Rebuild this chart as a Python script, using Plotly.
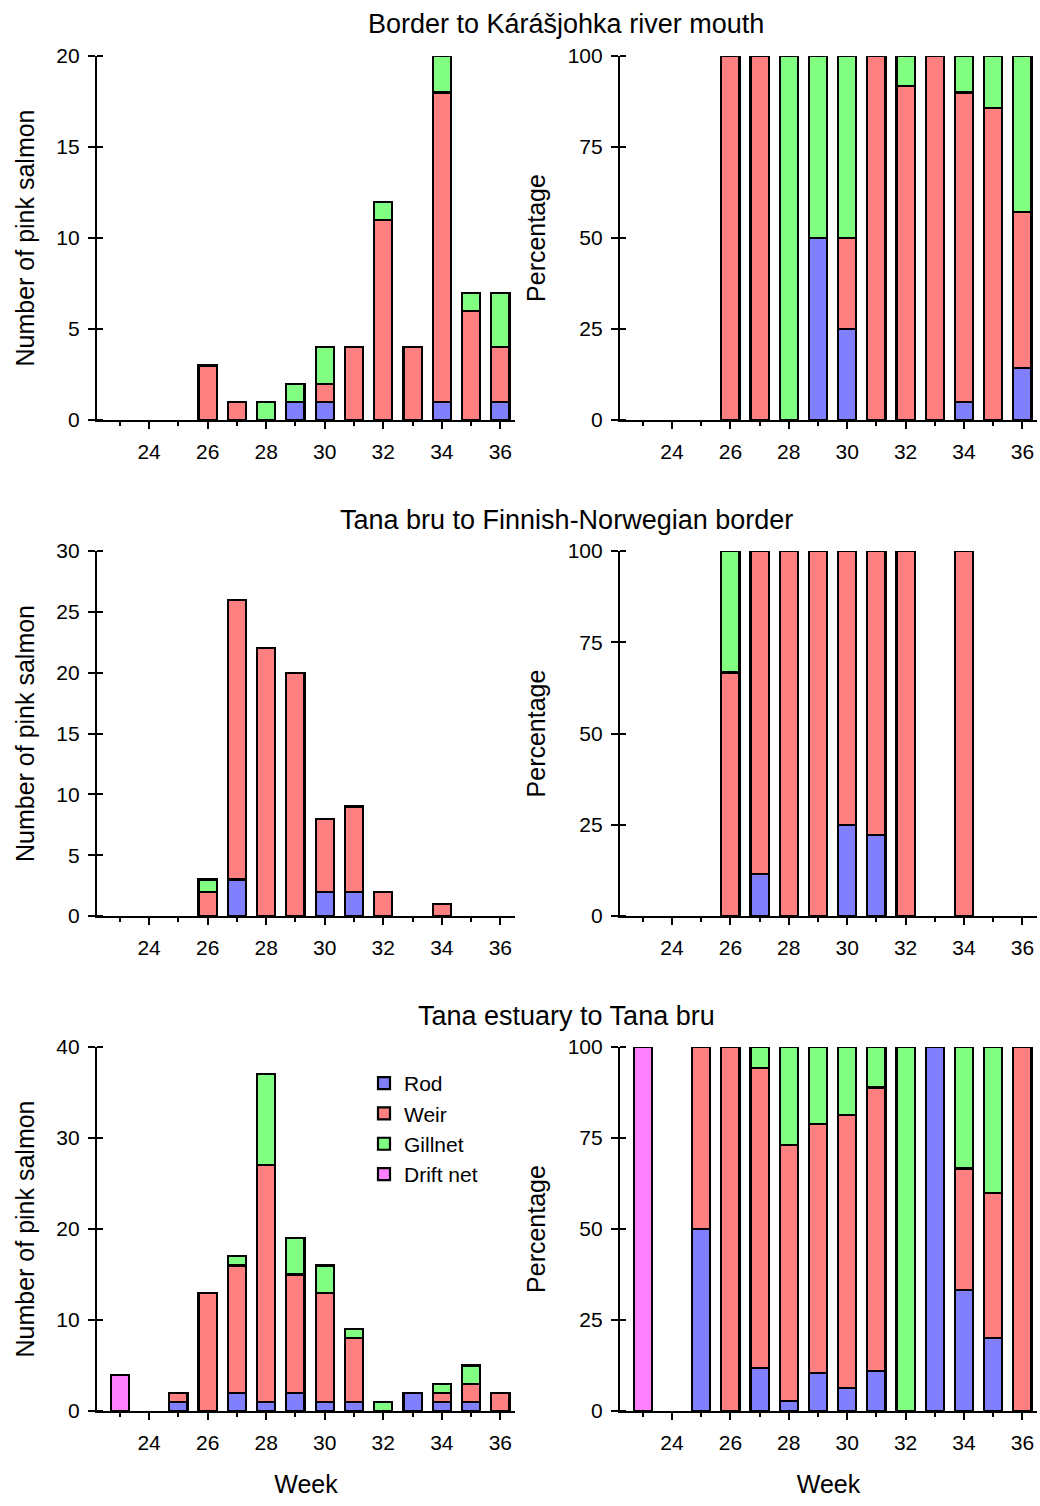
import plotly.graph_objects as go

N = None
weeks = [23, 24, 25, 26, 27, 28, 29, 30, 31, 32, 33, 34, 35, 36]

# Border to Kárášjohka river mouth
rod1 = [N, N, N, N, N, N, 1, 1, N, N, N, 1, N, 1]
weir1 = [N, N, N, 3, 1, N, N, 1, 4, 11, 4, 17, 6, 3]
gill1 = [N, N, N, N, N, 1, 1, 2, N, 1, N, 2, 1, 3]
rodp1 = [N, N, N, N, N, N, 50, 25, N, N, N, 5, N, 14.3]
weirp1 = [N, N, N, 100, 100, N, N, 25, 100, 91.7, 100, 85, 85.7, 42.9]
gillp1 = [N, N, N, N, N, 100, 50, 50, N, 8.3, N, 10, 14.3, 42.9]

# Tana bru to Finnish-Norwegian border
rod2 = [N, N, N, N, 3, N, N, 2, 2, N, N, N, N, N]
weir2 = [N, N, N, 2, 23, 22, 20, 6, 7, 2, N, 1, N, N]
gill2 = [N, N, N, 1, N, N, N, N, N, N, N, N, N, N]
rodp2 = [N, N, N, N, 11.5, N, N, 25, 22.2, N, N, N, N, N]
weirp2 = [N, N, N, 66.7, 88.5, 100, 100, 75, 77.8, 100, N, 100, N, N]
gillp2 = [N, N, N, 33.3, N, N, N, N, N, N, N, N, N, N]

# Tana estuary to Tana bru
rod3 = [N, N, 1, N, 2, 1, 2, 1, 1, N, 2, 1, 1, N]
weir3 = [N, N, 1, 13, 14, 26, 13, 12, 7, N, N, 1, 2, 2]
gill3 = [N, N, N, N, 1, 10, 4, 3, 1, 1, N, 1, 2, N]
drift3 = [4, N, N, N, N, N, N, N, N, N, N, N, N, N]
rodp3 = [N, N, 50, N, 11.8, 2.7, 10.5, 6.3, 11.1, N, 100, 33.3, 20, N]
weirp3 = [N, N, 50, 100, 82.4, 70.3, 68.4, 75, 77.8, N, N, 33.3, 40, 100]
gillp3 = [N, N, N, N, 5.9, 27, 21.1, 18.8, 11.1, 100, N, 33.3, 40, N]
driftp3 = [100, N, N, N, N, N, N, N, N, N, N, N, N, N]

titles = ["Border to Kárášjohka river mouth",
          "Tana bru to Finnish-Norwegian border",
          "Tana estuary to Tana bru"]
x_ticks = [24, 26, 28, 30, 32, 34, 36]
x_minor = [23, 25, 27, 29, 31, 33, 35]
series_names = ["Rod", "Weir", "Gillnet", "Drift net"]
colors = {"Rod": "#8080FF", "Weir": "#FF8080", "Gillnet": "#80FF80", "Drift net": "#FF80FF"}

panels = [
    (0, 0, {"Rod": rod1, "Weir": weir1, "Gillnet": gill1}, 20, [0, 5, 10, 15, 20]),
    (0, 1, {"Rod": rodp1, "Weir": weirp1, "Gillnet": gillp1}, 100, [0, 25, 50, 75, 100]),
    (1, 0, {"Rod": rod2, "Weir": weir2, "Gillnet": gill2}, 30, [0, 5, 10, 15, 20, 25, 30]),
    (1, 1, {"Rod": rodp2, "Weir": weirp2, "Gillnet": gillp2}, 100, [0, 25, 50, 75, 100]),
    (2, 0, {"Rod": rod3, "Weir": weir3, "Gillnet": gill3, "Drift net": drift3}, 40, [0, 10, 20, 30, 40]),
    (2, 1, {"Rod": rodp3, "Weir": weirp3, "Gillnet": gillp3, "Drift net": driftp3}, 100, [0, 25, 50, 75, 100]),
]

W, H = 1040, 1506
xdom = [(97 / W, 515 / W), (620 / W, 1037 / W)]
rows_px = [(56, 420), (551, 916), (1047, 1411)]
ydom = [(1 - b / H, 1 - t / H) for (t, b) in rows_px]

FONT = "Liberation Sans, Arial, sans-serif"
TICK = 21
fig = go.Figure()
layout = dict(
    width=W, height=H, autosize=False,
    margin=dict(l=0, r=0, t=0, b=0),
    paper_bgcolor="white", plot_bgcolor="white",
    barmode="stack",
    font=dict(family=FONT, size=TICK, color="black"),
    showlegend=True,
    legend=dict(x=364 / W, y=1 - 1063 / H, xanchor="left", yanchor="top",
                traceorder="normal", font=dict(size=21), bgcolor="rgba(0,0,0,0)",
                tracegroupgap=0),
)

for i, (r, c, data, ymax, ytv) in enumerate(panels):
    k = i + 1
    xname = "x" if k == 1 else f"x{k}"
    yname = "y" if k == 1 else f"y{k}"
    for name in series_names:
        if name not in data:
            continue
        fig.add_trace(go.Bar(
            x=weeks, y=data[name], name=name, width=0.62,
            marker=dict(color=colors[name], line=dict(color="black", width=2.2)),
            xaxis=xname, yaxis=yname,
            showlegend=(k == 5), legendgroup=name,
        ))
    is_bottom = (r == 2)
    layout[f"xaxis{k}"] = dict(
        domain=list(xdom[c]), anchor=yname, range=[22.22, 36.5],
        tickvals=x_ticks, ticks="outside", ticklen=7, tickwidth=2,
        tickcolor="black", showline=True, linewidth=2.2, linecolor="black",
        showgrid=False, zeroline=False, tickfont=dict(size=TICK), ticklabelstandoff=5,
        minor=dict(tickvals=x_minor, ticks="outside", ticklen=4,
                   tickwidth=2, tickcolor="black", showgrid=False),
        fixedrange=True,
        title=dict(text="Week" if is_bottom else "", font=dict(size=25), standoff=22),
        automargin=False,
    )
    # minor ticks (nudged by a hair so they are not merged with the major ones)
    # draw the inner half of the crossing y ticks
    eps = ymax * 1e-6
    layout[f"yaxis{k}"] = dict(
        domain=list(ydom[r]), anchor=xname, range=[0, ymax],
        tickvals=ytv, ticks="outside", ticklen=7, tickwidth=2, tickcolor="black",
        showline=True, linewidth=2.2, linecolor="black", showgrid=False, zeroline=False,
        tickfont=dict(size=TICK), ticklabelstandoff=4,
        minor=dict(tickvals=[v + eps for v in ytv], ticks="inside", ticklen=6,
                   tickwidth=2, tickcolor="black", showgrid=False),
        title=dict(text="Number of pink salmon" if c == 0 else "Percentage",
                   font=dict(size=25), standoff=15),
        automargin=False, fixedrange=True,
    )

annotations = []
for r, t in enumerate(titles):
    y_px = [24, 520, 1016][r]
    annotations.append(dict(text=t, x=566 / W, y=1 - y_px / H, xref="paper", yref="paper",
                            xanchor="center", yanchor="middle", showarrow=False,
                            font=dict(size=27, family=FONT)))
layout["annotations"] = annotations
fig.update_layout(**layout)
fig.write_html("out.html", config={"displayModeBar": False},
               post_script="document.body.style.margin='0';document.body.style.overflow='hidden';")
